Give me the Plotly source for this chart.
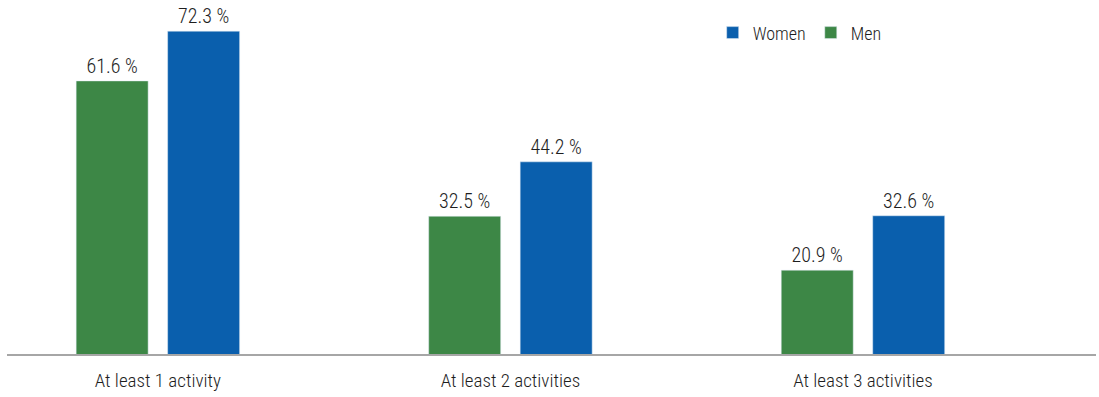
import plotly.graph_objects as go

categories = ["At least 1 activity", "At least 2 activities", "At least 3 activities"]
men = [61.6, 32.5, 20.9]
women = [72.3, 44.2, 32.6]

FONT = "Roboto Condensed, Roboto, sans-serif"
GREEN = "#3D8746"
BLUE = "#0A5FAD"
TXT = "#1E1E1E"

fig = go.Figure()
fig.add_trace(go.Bar(
    x=categories, y=men, name="Men", marker_color=GREEN,
    text=[f"{v:.1f} %" for v in men], textposition="outside",
    textfont=dict(family=FONT, size=20, color=TXT, weight=300), cliponaxis=False,
))
fig.add_trace(go.Bar(
    x=categories, y=women, name="Women", marker_color=BLUE,
    text=[f"{v:.1f} %" for v in women], textposition="outside",
    textfont=dict(family=FONT, size=20, color=TXT, weight=300), cliponaxis=False,
))

fig.update_layout(
    width=1099, height=397,
    margin=dict(l=7, r=3, t=0, b=43),
    paper_bgcolor="white", plot_bgcolor="white",
    barmode="group", bargap=0.481, bargroupgap=0.213,
    font=dict(family=FONT, size=19, color=TXT, weight=300),
    showlegend=True,
    legend=dict(
        orientation="h", traceorder="reversed",
        x=0.648, y=0.907, xanchor="left", yanchor="middle",
        font=dict(family=FONT, size=18, color=TXT, weight=300),
        itemwidth=30, bgcolor="rgba(0,0,0,0)",
    ),
    xaxis=dict(
        range=[-0.428, 2.661], showgrid=False, showline=True,
        linecolor="#A6A6A6", linewidth=2, ticks="", ticklabelstandoff=8,
        tickfont=dict(family=FONT, size=19, color=TXT, weight=300),
    ),
    yaxis=dict(range=[2.87, 79.0], visible=False, showgrid=False, zeroline=False),
)

fig.write_html("out.html")
